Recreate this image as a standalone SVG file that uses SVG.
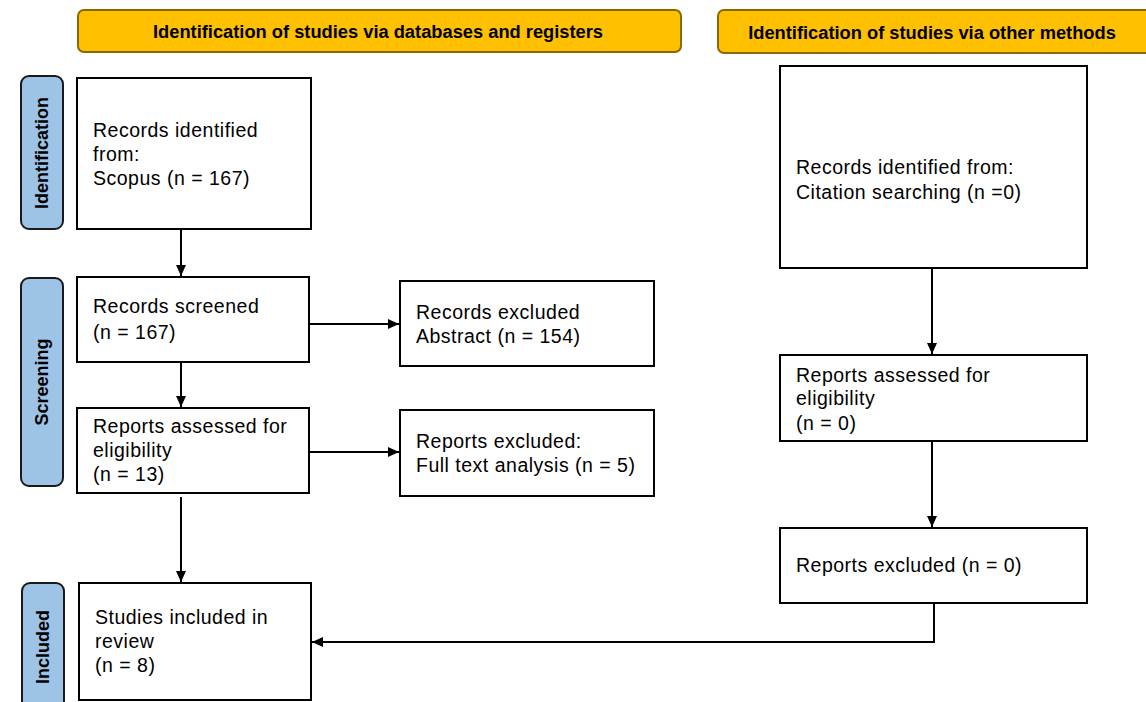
<svg xmlns="http://www.w3.org/2000/svg" width="1146" height="702" viewBox="0 0 1146 702">
<style>
.hdr{fill:#FFC000;stroke:#8A6A00;stroke-width:2}
.side{fill:#9DC3E6;stroke:#1a1a1a;stroke-width:2}
.box{fill:#fff;stroke:#000;stroke-width:2}
.ht{font-family:"Liberation Sans",Arial,sans-serif;font-weight:bold;font-size:18.3px;fill:#000;text-anchor:middle}
.st{font-family:"Liberation Sans",Arial,sans-serif;font-weight:bold;font-size:18px;fill:#000;text-anchor:middle;dominant-baseline:central}
.t{font-family:"Liberation Sans",Arial,sans-serif;font-size:19.5px;letter-spacing:0.5px;fill:#000}
.c{fill:none;stroke:#000;stroke-width:2}
</style>
<defs>
<marker id="ah" markerUnits="userSpaceOnUse" markerWidth="12" markerHeight="12" viewBox="0 0 12 12" refX="11" refY="6" orient="auto">
<path d="M0,1 L11,6 L0,11 Z" fill="#000"/>
</marker>
</defs>
<rect width="1146" height="702" fill="#fff"/>

<g id="hdr-db"><rect class="hdr" x="78" y="10" width="603" height="42" rx="6"/><text class="ht" x="378" y="38">Identification of studies via databases and registers</text></g>
<g id="hdr-other"><rect class="hdr" x="718" y="10" width="440" height="43" rx="6"/><text class="ht" x="932" y="39">Identification of studies via other methods</text></g>

<g id="side-identification"><rect class="side" x="21" y="76" width="42" height="153" rx="8"/><text class="st" transform="translate(42,153) rotate(-90)">Identification</text></g>
<g id="side-screening"><rect class="side" x="21" y="278" width="42" height="208" rx="8"/><text class="st" transform="translate(42,382) rotate(-90)">Screening</text></g>
<g id="side-included"><rect class="side" x="22" y="583" width="42" height="140" rx="8"/><text class="st" transform="translate(43,647) rotate(-90)">Included</text></g>

<g id="n-records-id"><rect class="box" x="77" y="78" width="234" height="151"/><text class="t" x="93" y="137">Records identified</text><text class="t" x="93" y="161">from:</text><text class="t" x="93" y="185">Scopus (n = 167)</text></g>
<g id="n-screened"><rect class="box" x="77" y="277" width="232" height="85"/><text class="t" x="93" y="313">Records screened</text><text class="t" x="93" y="339">(n = 167)</text></g>
<g id="n-assessed"><rect class="box" x="77" y="408" width="232" height="85"/><text class="t" x="93" y="433">Reports assessed for</text><text class="t" x="93" y="457">eligibility</text><text class="t" x="93" y="481">(n = 13)</text></g>
<g id="n-included"><rect class="box" x="79" y="583" width="232" height="117"/><text class="t" x="95" y="624">Studies included in</text><text class="t" x="95" y="648">review</text><text class="t" x="95" y="672">(n = 8)</text></g>
<g id="n-rec-excluded"><rect class="box" x="400" y="281" width="254" height="85"/><text class="t" x="416" y="319">Records excluded</text><text class="t" x="416" y="343">Abstract (n = 154)</text></g>
<g id="n-rep-excluded"><rect class="box" x="400" y="410" width="254" height="86"/><text class="t" x="416" y="448">Reports excluded:</text><text class="t" x="416" y="472">Full text analysis (n = 5)</text></g>
<g id="n-other-id"><rect class="box" x="780" y="66" width="307" height="202"/><text class="t" x="796" y="174">Records identified from:</text><text class="t" x="796" y="199">Citation searching (n =0)</text></g>
<g id="n-other-assessed"><rect class="box" x="780" y="355" width="307" height="86"/><text class="t" x="796" y="382">Reports assessed for</text><text class="t" x="796" y="405">eligibility</text><text class="t" x="796" y="430">(n = 0)</text></g>
<g id="n-other-excluded"><rect class="box" x="780" y="528" width="307" height="75"/><text class="t" x="796" y="572">Reports excluded (n = 0)</text></g>

<g id="connectors">
<line class="c" x1="181" y1="230" x2="181" y2="276" marker-end="url(#ah)"/>
<line class="c" x1="181" y1="362" x2="181" y2="407" marker-end="url(#ah)"/>
<line class="c" x1="181" y1="497" x2="181" y2="582" marker-end="url(#ah)"/>
<line class="c" x1="309" y1="324" x2="399" y2="324" marker-end="url(#ah)"/>
<line class="c" x1="309" y1="452" x2="399" y2="452" marker-end="url(#ah)"/>
<line class="c" x1="932" y1="268" x2="932" y2="354" marker-end="url(#ah)"/>
<line class="c" x1="932" y1="441" x2="932" y2="527" marker-end="url(#ah)"/>
<polyline class="c" points="934,603 934,642 312,642" marker-end="url(#ah)"/>
</g>
</svg>
